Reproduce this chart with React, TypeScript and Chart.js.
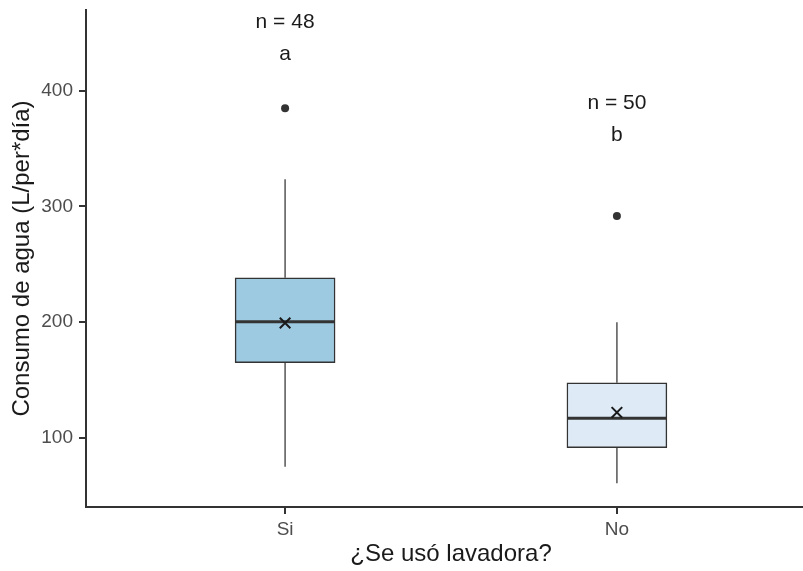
import React, { useEffect, useRef } from "react";
import { Chart, registerables } from "chart.js";

Chart.register(...registerables);

// ---- data ----
const categories = ["Si", "No"];
const q1 = [164.8, 91.4];
const medians = [200.3, 116.8];
const q3 = [238.3, 147.5];
const whiskerLow = [74.9, 60.6];
const whiskerHigh = [323.6, 199.8];
const outliers = [[385], [291.7]];
const means = [199.2, 121.8];
const nCounts = [48, 50];
const groupLetters = ["a", "b"];
const nLabelY = [454.5, 384.2];
const letterLabelY = [426.6, 356.5];
const yTicks = [100, 200, 300, 400];
const fills = ["#9ECAE1", "#DEEBF7"];

const BOX_HALF = 0.15;
const FONT = "'Liberation Sans', Arial, sans-serif";

const textPlugin = {
  id: "groupText",
  afterDatasetsDraw(chart: any) {
    const { ctx, scales } = chart;
    const xs = scales.x;
    const ys = scales.y;
    ctx.save();
    ctx.fillStyle = "#1a1a1a";
    ctx.font = `21px ${FONT}`;
    ctx.textAlign = "center";
    ctx.textBaseline = "alphabetic";
    categories.forEach((_, i) => {
      const px = xs.getPixelForValue(i + 1);
      ctx.fillText(`n = ${nCounts[i]}`, px, ys.getPixelForValue(nLabelY[i]));
      ctx.fillText(groupLetters[i], px, ys.getPixelForValue(letterLabelY[i]));
    });
    ctx.restore();
  },
};

export default function App() {
  const ref = useRef<HTMLCanvasElement | null>(null);

  useEffect(() => {
    if (!ref.current) return;

    const datasets: any[] = [];

    categories.forEach((_, i) => {
      datasets.push({
        type: "line",
        data: [
          { x: i + 1, y: q3[i] },
          { x: i + 1, y: whiskerHigh[i] },
        ],
        borderColor: "#555555",
        borderWidth: 1.5,
        pointRadius: 0,
        order: 10,
      });
      datasets.push({
        type: "line",
        data: [
          { x: i + 1, y: whiskerLow[i] },
          { x: i + 1, y: q1[i] },
        ],
        borderColor: "#555555",
        borderWidth: 1.5,
        pointRadius: 0,
        order: 10,
      });
    });

    datasets.push({
      type: "bar",
      data: categories.map((_, i) => ({ x: i + 1, y: [q1[i], q3[i]] })),
      backgroundColor: fills,
      borderColor: "#333333",
      borderWidth: 1.5,
      borderSkipped: false,
      barThickness: 100,
      order: 8,
    });

    categories.forEach((_, i) => {
      datasets.push({
        type: "line",
        data: [
          { x: i + 1 - BOX_HALF, y: medians[i] },
          { x: i + 1 + BOX_HALF, y: medians[i] },
        ],
        borderColor: "#333333",
        borderWidth: 3,
        pointRadius: 0,
        order: 6,
      });
    });

    datasets.push({
      type: "line",
      data: outliers.flatMap((arr, i) => arr.map((v) => ({ x: i + 1, y: v }))),
      showLine: false,
      pointRadius: 4,
      pointBackgroundColor: "#333333",
      pointBorderColor: "#333333",
      pointBorderWidth: 0,
      order: 4,
    });

    datasets.push({
      type: "line",
      data: means.map((v, i) => ({ x: i + 1, y: v })),
      showLine: false,
      pointStyle: "crossRot",
      pointRadius: 7.5,
      pointBorderColor: "#1a1a1a",
      pointBorderWidth: 2,
      order: 2,
    });

    const chart = new Chart(ref.current, {
      type: "bar",
      data: { datasets },
      plugins: [textPlugin],
      options: {
        animation: false,
        responsive: false,
        devicePixelRatio: 1,
        layout: { autoPadding: false, padding: { top: 10, right: 0, left: 0, bottom: 0 } },
        plugins: {
          legend: { display: false },
          tooltip: { enabled: false },
          title: { display: false },
        },
        scales: {
          x: {
            type: "linear",
            offset: false,
            min: 0.4,
            max: categories.length + 0.6,
            afterBuildTicks: (s: any) => {
              s.ticks = categories.map((_, i) => ({ value: i + 1 }));
            },
            afterFit: (s: any) => {
              s.height = 64;
              s.paddingLeft = 0;
              s.paddingRight = 0;
            },
            ticks: {
              callback: (v: any) => categories[Math.round(Number(v)) - 1] ?? "",
              color: "#4D4D4D",
              font: { family: FONT, size: 19 },
              padding: 4,
              maxRotation: 0,
              autoSkip: false,
            },
            grid: {
              offset: false,
              drawOnChartArea: false,
              drawTicks: true,
              tickLength: 7,
              color: "#333333",
              lineWidth: 2,
            },
            border: { display: true, color: "#333333", width: 2 },
            title: {
              display: true,
              text: "¿Se usó lavadora?",
              color: "#1a1a1a",
              font: { family: FONT, size: 24 },
              padding: { top: 0, bottom: 2 },
            },
          },
          y: {
            type: "linear",
            min: 40,
            max: 470,
            afterBuildTicks: (s: any) => {
              s.ticks = yTicks.map((v) => ({ value: v }));
            },
            afterFit: (s: any) => {
              s.width = 86;
              s.paddingTop = 0;
              s.paddingBottom = 0;
            },
            ticks: {
              color: "#4D4D4D",
              font: { family: FONT, size: 19 },
              padding: 6,
            },
            grid: {
              drawOnChartArea: false,
              drawTicks: true,
              tickLength: 7,
              color: "#333333",
              lineWidth: 2,
            },
            border: { display: true, color: "#333333", width: 2 },
            title: {
              display: true,
              text: "Consumo de agua (L/per*día)",
              color: "#1a1a1a",
              font: { family: FONT, size: 24 },
              padding: { top: 8, bottom: 0 },
            },
          },
        },
      } as any,
    });

    return () => chart.destroy();
  }, []);

  return (
    <div
      style={{
        position: "absolute",
        left: 0,
        top: 0,
        width: 803,
        height: 571,
        overflow: "hidden",
        background: "#ffffff",
      }}
    >
      <canvas ref={ref} width={816} height={571} style={{ width: 816, height: 571, display: "block" }} />
    </div>
  );
}
